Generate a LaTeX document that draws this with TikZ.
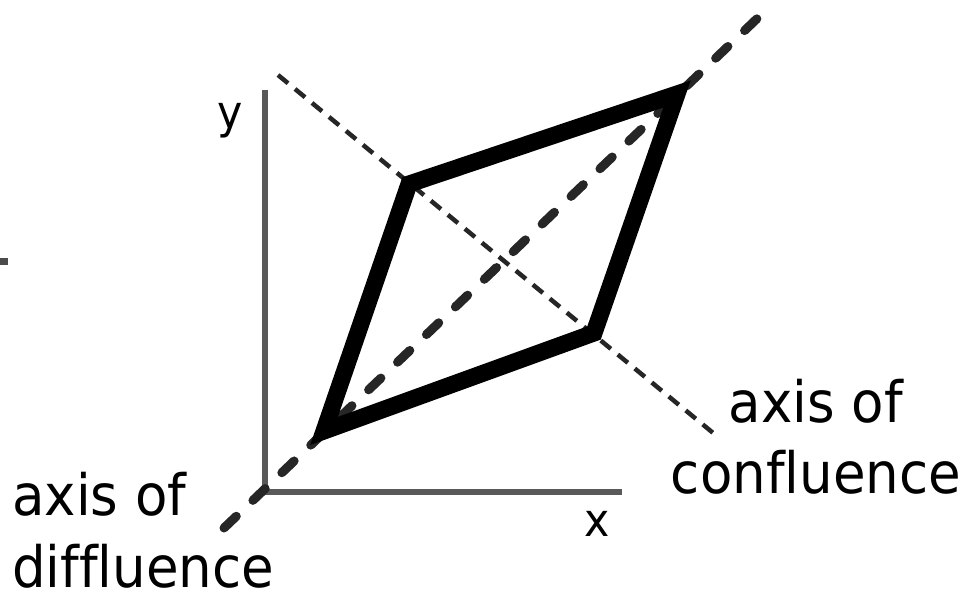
\documentclass[tikz,border=0pt]{standalone}
\usepackage{fontspec}
\setmainfont[Ligatures=NoCommon]{DejaVu Sans}
\usepackage{graphicx}
\tikzset{
  axisline/.style={draw=black!65, line width=6pt, line cap=butt, line join=miter},
  diffaxis/.style={draw=black!85, line width=9pt, line cap=round, dash pattern=on 17pt off 23pt},
  confaxis/.style={draw=black!85, line width=4.5pt, dash pattern=on 13pt off 9pt},
  rhomb/.style={draw=black, line width=17pt, line join=miter, miter limit=10},
  biglabel/.style={inner sep=0pt, font=\fontsize{57}{57}\selectfont},
  axlabel/.style={inner sep=0pt, font=\fontsize{46}{46}\selectfont},
}
\newcommand{\sq}[1]{\scalebox{0.93}[1]{#1}}
\begin{document}
\begin{tikzpicture}[x=1pt,y=-1pt]
\useasboundingbox (0,0) rectangle (971,593);
% axes
\coordinate (ytop) at (265,90);
\coordinate (orig) at (265,492);
\coordinate (xend) at (622,492);
\draw[axisline] (ytop) -- (orig) -- (xend);
% dashed axes
\coordinate (dstart) at (224,528);
\coordinate (dend) at (764,12);
\coordinate (cstart) at (278,75);
\coordinate (cend) at (718,437);
\draw[diffaxis] (dstart) -- (dend);
\draw[confaxis] (cstart) -- (cend);
% rhombus
\coordinate (A) at (324,431);
\coordinate (B) at (409,184);
\coordinate (C) at (677,94);
\coordinate (D) at (594,333);
\draw[rhomb] (A) -- (B) -- (C) -- (D) -- cycle;
% small mark at left edge
\fill[black!70] (0,258) rectangle (8,265);
% labels
\node[axlabel, anchor=base] (ylab) at (230,129) {\sq{y}};
\node[axlabel, anchor=base] (xlab) at (597,536) {\sq{x}};
\node[biglabel, anchor=base] (cl1) at (816,422) {\sq{axis of}};
\node[biglabel, anchor=base] (cl2) at (816,493) {\sq{confluence}};
\node[biglabel, anchor=base west] (dl1) at (12,515) {\sq{axis of}};
\node[biglabel, anchor=base west] (dl2) at (12,587) {\sq{diffluence}};
\end{tikzpicture}
\end{document}
